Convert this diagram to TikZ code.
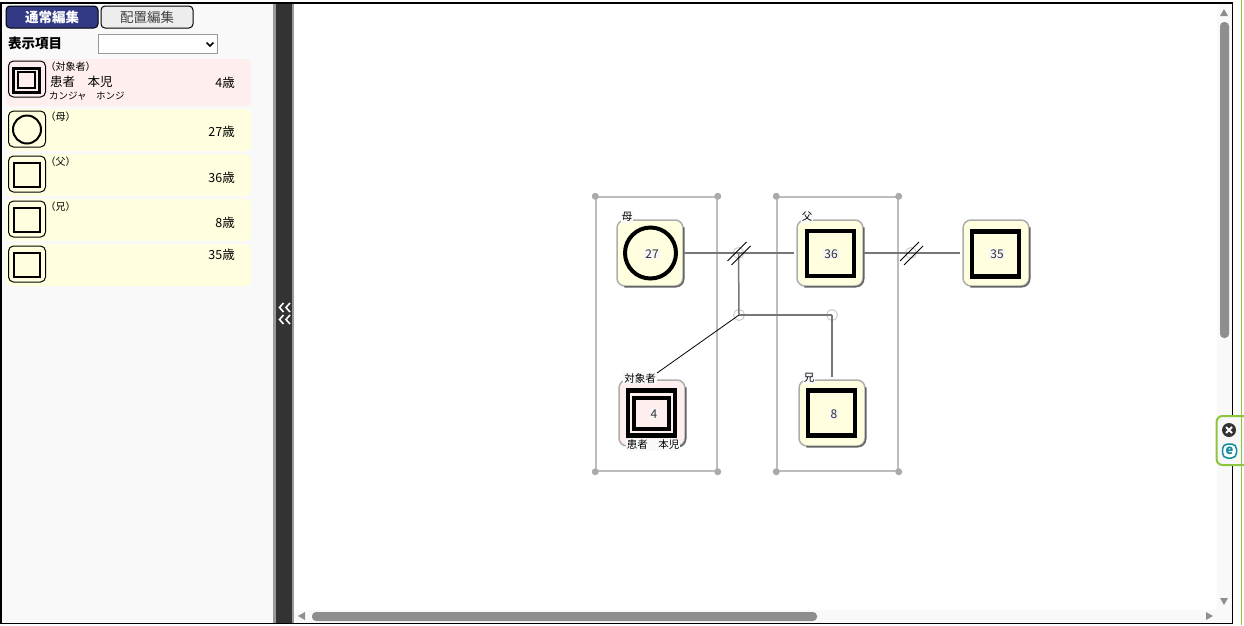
\documentclass[tikz,border=0pt]{standalone}
\usepackage{fontspec}
\setmainfont{Noto Sans CJK JP}
\usepackage{xcolor}
\usetikzlibrary{calc}
\definecolor{pane}{HTML}{F9F9F9}
\definecolor{bar}{HTML}{333333}
\definecolor{rim}{HTML}{999999}
\definecolor{navy}{HTML}{333A85}
\definecolor{cream}{HTML}{FFFFE0}
\definecolor{blush}{HTML}{FFEEEE}
\definecolor{fam}{HTML}{BDBDBD}
\definecolor{wire}{HTML}{777777}
\definecolor{thumb}{HTML}{8E8E8E}
\definecolor{leaf}{HTML}{8CC63F}
\definecolor{teal}{HTML}{0E8A9A}
\definecolor{numink}{HTML}{333333}
\definecolor{numbg}{HTML}{F5F5F5}
\tikzset{
  tabbtn/.style={draw=black, line width=1pt, rounded corners=4pt, minimum width=92pt, minimum height=22pt, inner sep=0pt, font=\fontsize{13.5}{14}\selectfont},
  rowbg/.style={rounded corners=5pt, minimum width=245pt, inner sep=0pt, anchor=north west},
  iconbox/.style={draw=black, line width=1pt, rounded corners=5pt, minimum width=37pt, minimum height=36pt, inner sep=0pt},
  iconsq/.style={draw=black, line width=2.5pt, minimum width=26pt, minimum height=24pt, inner sep=0pt},
  tagtxt/.style={font=\fontsize{10}{11}\selectfont, inner sep=0pt, anchor=west},
  agetxt/.style={font=\fontsize{12.5}{13}\selectfont, inner sep=0pt, anchor=east},
  famframe/.style={draw=fam, line width=1.5pt, minimum width=121pt, minimum height=274pt, inner sep=0pt},
  grip/.style={circle, fill=fam!90!black, minimum size=7pt, inner sep=0pt},
  person/.style={draw=rim!80, line width=1.5pt, rounded corners=8pt, minimum size=66pt, inner sep=0pt},
  edgedark/.style={draw=wire!85!black, line width=1.5pt, rounded corners=8pt},
  sqmark/.style={draw=black, line width=4.5pt, minimum width=47pt, minimum height=45pt, inner sep=0pt},
  numtxt/.style={fill=numbg, font=\fontsize{12}{13}\selectfont, inner sep=1pt, text=numink},
  plabel/.style={fill=pane, font=\fontsize{10.5}{11}\selectfont, inner sep=1pt},
  wirelink/.style={draw=wire, line width=1.5pt},
  joint/.style={circle, draw=black!20, line width=1pt, minimum size=11pt, inner sep=0pt},
  cutline/.style={draw=black, line width=0.8pt},
}
\newcommand{\personbox}[4]{%
  \node[person, fill=#4] (#1) at (#2,#3) {};
  \draw[edgedark] ([yshift=-8pt]#1.north east) -- (#1.south east) -- ([xshift=8pt]#1.south west);
}
\newcommand{\dblcut}[1]{%
  \draw[cutline] ($(#1)+(-11,8)$) -- ($(#1)+(8,-11)$);
  \draw[cutline] ($(#1)+(-7,12)$) -- ($(#1)+(12,-7)$);
}
\begin{document}
\begin{tikzpicture}[x=1pt,y=-1pt]
  \useasboundingbox (0,0) rectangle (1244,625);
  \fill[white] (0,0) rectangle (1244,625);
  \fill[pane] (2,3) rectangle (273,623);
  \fill[rim] (273,3) rectangle (294,623);
  \fill[bar] (276,3) rectangle (292,623);
  \fill[pane] (1217,3) rectangle (1232,623);
  \fill[pane] (294,610) rectangle (1232,623);

  \node[tabbtn, fill=navy, text=white, font=\fontsize{13.5}{14}\selectfont\bfseries] (normaltab) at (52,17) {通常編集};
  \node[tabbtn, fill=black!7, text=black!75] (layouttab) at (147,17) {配置編集};
  \node[inner sep=0pt, anchor=west, font=\fontsize{13.5}{14}\selectfont\bfseries] (itemlabel) at (8,43) {表示項目};
  \node[draw=rim, line width=1pt, fill=white, minimum width=119pt, minimum height=19pt, inner sep=0pt] (itemselect) at (158,44) {};
  \draw[line width=1.6pt] (206.5,42.5) -- (210,46) -- (213.5,42.5);

  \node[rowbg, fill=blush, minimum height=47pt] (rowself) at (6,59) {};
  \foreach \nm/\yy in {mother/109, father/154, brother/199, spouse/244}
    \node[rowbg, fill=cream, minimum height=42pt] (row\nm) at (6,\yy) {};

  \node[iconbox, fill=blush] (iconself) at (27,79) {};
  \node[iconbox, fill=cream] (iconmother) at (27,129) {};
  \node[iconbox, fill=cream] (iconfather) at (27,174) {};
  \node[iconbox, fill=cream] (iconbrother) at (27,219) {};
  \node[iconbox, fill=cream] (iconspouse) at (27,264) {};
  \node[draw=black, line width=2.5pt, minimum width=26pt, minimum height=24pt, inner sep=0pt] (selfouter) at (26.5,80.5) {};
  \node[draw=black, line width=2pt, minimum width=17pt, minimum height=16pt, inner sep=0pt] (selfinner) at (26.5,80) {};
  \node[circle, draw=black, line width=2pt, minimum size=28pt, inner sep=0pt] (markmother) at (27,129.5) {};
  \foreach \nm/\yy in {father/175, brother/220, spouse/265}
    \node[iconsq] (mark\nm) at (27,\yy) {};

  \node[tagtxt] (tagself) at (45.5,67) {（対象者）};
  \node[tagtxt, font=\fontsize{12.5}{13}\selectfont] (nameself) at (50,82) {患者　本児};
  \node[tagtxt, font=\fontsize{9.5}{10}\selectfont] (kanaself) at (49,96) {カンジャ　ホンジ};
  \node[tagtxt] (tagmother) at (45.5,117) {（母）};
  \node[tagtxt] (tagfather) at (45.5,162) {（父）};
  \node[tagtxt] (tagbrother) at (45.5,207) {（兄）};
  \node[agetxt] (ageself) at (235,83) {4歳};
  \node[agetxt] (agemother) at (235,132) {27歳};
  \node[agetxt] (agefather) at (235,177.5) {36歳};
  \node[agetxt] (agebrother) at (235,222.5) {8歳};
  \node[agetxt] (agespouse) at (235,254.5) {35歳};

  \foreach \yy in {303,315}
    \draw[white, line width=1.6pt] (283.5,\yy) -- (279.5,\yy+4.5) -- (283.5,\yy+9) (290,\yy) -- (286,\yy+4.5) -- (290,\yy+9);

  \node[famframe] (famleft) at (656.5,334) {};
  \node[famframe] (famright) at (837.5,334) {};
  \foreach \fr in {famleft, famright}
    \foreach \cn in {north west, north east, south west, south east}
      \node[grip] at (\fr.\cn) {};

  \personbox{mother}{650}{253}{cream}
  \personbox{father}{830}{253}{cream}
  \personbox{spouse}{996}{253}{cream}
  \personbox{self}{652}{413}{blush}
  \personbox{brother}{832}{413}{cream}

  \node[circle, draw=black, line width=4pt, minimum size=51pt, inner sep=0pt] (mothermark) at (650.5,253) {};
  \node[sqmark] (fathermark) at (830.5,253.5) {};
  \node[sqmark] (spousemark) at (995.5,254) {};
  \node[sqmark] (brothermark) at (831.5,413) {};
  \node[sqmark] (selfmark) at (651.5,413) {};
  \node[draw=black, line width=4pt, minimum width=35pt, minimum height=31pt, inner sep=0pt] (selfmarkin) at (651.5,413.5) {};

  \node[numtxt] (nmother) at (652,254) {27};
  \node[numtxt] (nfather) at (831,254) {36};
  \node[numtxt] (nspouse) at (997,254) {35};
  \node[numtxt] (nself) at (654,414) {4};
  \node[numtxt] (nbrother) at (834,414) {8};

  \node[plabel] (lmother) at (627,217) {母};
  \node[plabel] (lfather) at (807,217) {父};
  \node[plabel] (lself) at (640,378) {対象者};
  \node[plabel] (lbrother) at (809,378) {兄};
  \node[plabel] (lselfname) at (653,445) {患者　本児};

  \node[joint] (couplea) at (738.5,253) {};
  \node[joint] (coupleb) at (911,253) {};
  \node[joint] (sibsa) at (739,315) {};
  \node[joint] (sibsb) at (832,315) {};
  \coordinate (fatherin) at ([xshift=-2pt]father.west);
  \coordinate (spousein) at ([xshift=-2pt]spouse.west);
  \coordinate (brotherin) at ([yshift=2pt]brother.north);
  \coordinate (selfin) at (657,373);

  \draw[wirelink] (mother.east) -- (fatherin);
  \draw[wirelink] (father.east) -- (spousein);
  \draw[wirelink] (couplea.center) -- (sibsa.center);
  \draw[wirelink] (sibsa.center) -- (sibsb.center);
  \draw[wirelink] (sibsb.center) -- (brotherin);
  \draw[draw=black, line width=0.8pt] (sibsa.center) -- (selfin);
  \dblcut{couplea}
  \dblcut{coupleb}

  \draw[black, line width=1.2pt] (1,623.5) -- (1,3) -- (1232.5,3) -- (1232.5,623.5) -- cycle;
  \draw[leaf, line width=1.2pt] (1241.5,0) -- (1241.5,625);

  \node[rounded corners=4pt, fill=thumb, minimum width=9pt, minimum height=316pt, inner sep=0pt] (vthumb) at (1224.5,180) {};
  \node[rounded corners=4pt, fill=thumb, minimum width=505pt, minimum height=9pt, inner sep=0pt] (hthumb) at (564.5,616.5) {};
  \fill[thumb] (1220,16) -- (1228,16) -- (1224,9) -- cycle;
  \fill[thumb] (1220,598) -- (1228,598) -- (1224,605) -- cycle;
  \fill[thumb] (305,612) -- (305,620) -- (298,616) -- cycle;
  \fill[thumb] (1206,612) -- (1206,620) -- (1213,616) -- cycle;

  \fill[black!3, draw=leaf, line width=2pt, rounded corners=6pt] (1245,416) -- (1216.5,416) -- (1216.5,465) -- (1245,465);
  \draw[leaf, line width=1.2pt] (1241.5,416) -- (1241.5,465);
  \node[circle, fill=black!80, minimum size=14pt, inner sep=0pt] (closeicon) at (1229,430) {};
  \draw[white, line width=2pt] ($(closeicon)+(-3,-3)$) -- ($(closeicon)+(3,3)$) ($(closeicon)+(-3,3)$) -- ($(closeicon)+(3,-3)$);
  \node[draw=teal, line width=1.5pt, fill=white, rounded corners=5pt, minimum size=14pt, inner sep=0pt, text=teal, font=\fontsize{13}{13}\selectfont\bfseries] (esticon) at (1229.5,451) {e};
\end{tikzpicture}
\end{document}
